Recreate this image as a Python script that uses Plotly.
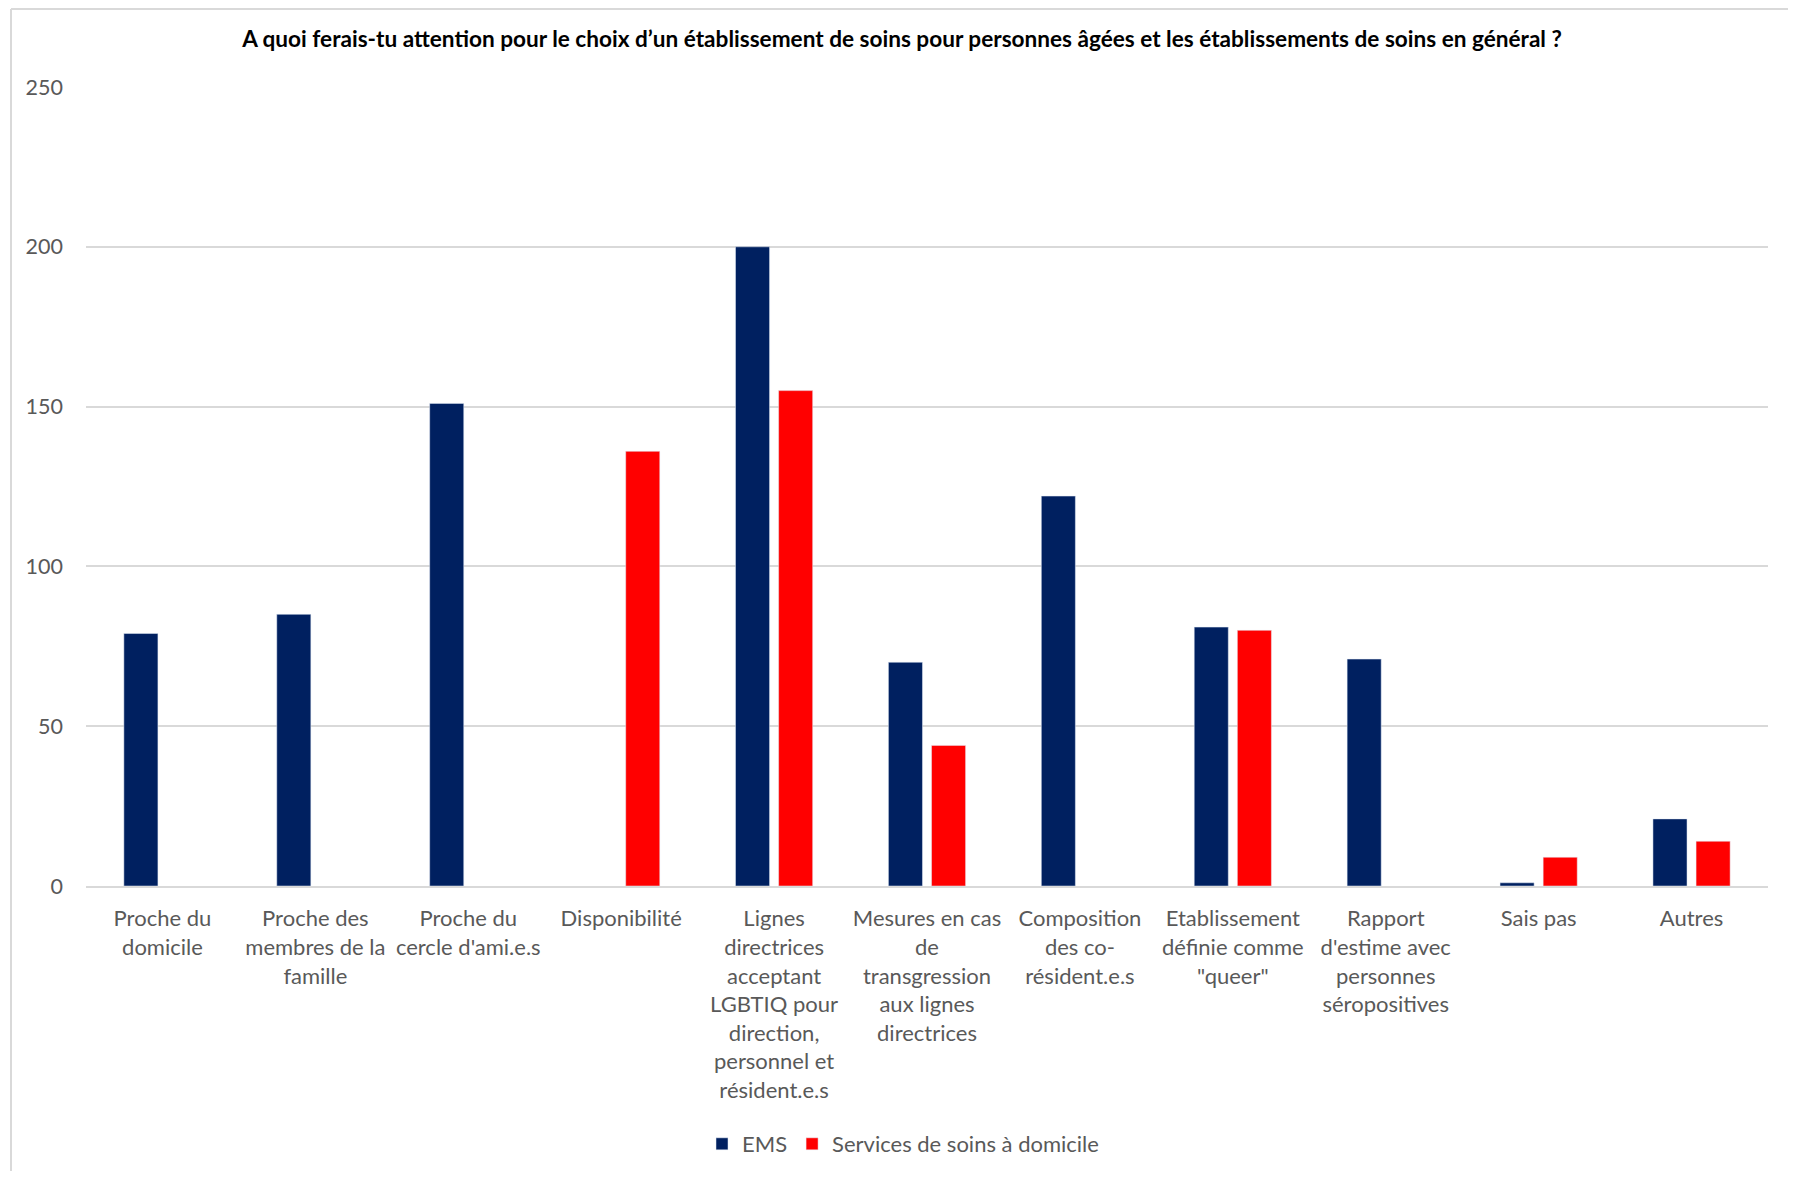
import plotly.graph_objects as go

categories = [
    "Proche du domicile",
    "Proche des membres de la famille",
    "Proche du cercle d'ami.e.s",
    "Disponibilité",
    "Lignes directrices acceptant LGBTIQ pour direction, personnel et résident.e.s",
    "Mesures en cas de transgression aux lignes directrices",
    "Composition des co-résident.e.s",
    "Etablissement définie comme \"queer\"",
    "Rapport d'estime avec personnes séropositives",
    "Sais pas",
    "Autres",
]
tick_labels = [
    "Proche du<br>domicile",
    "Proche des<br>membres de la<br>famille",
    "Proche du<br>cercle d'ami.e.s",
    "Disponibilité",
    "Lignes<br>directrices<br>acceptant<br>LGBTIQ pour<br>direction,<br>personnel et<br>résident.e.s",
    "Mesures en cas<br>de<br>transgression<br>aux lignes<br>directrices",
    "Composition<br>des co-<br>résident.e.s",
    "Etablissement<br>définie comme<br>\"queer\"",
    "Rapport<br>d'estime avec<br>personnes<br>séropositives",
    "Sais pas",
    "Autres",
]
ems = [79, 85, 151, None, 200, 70, 122, 81, 71, 1, 21]
soins_domicile = [None, None, None, 136, 155, 44, None, 80, None, 9, 14]
y_ticks = [0, 50, 100, 150, 200, 250]

title = ("A quoi ferais-tu attention pour le choix d’un établissement de soins pour "
         "personnes âgées et les établissements de soins en général ?")

FONT = "Lato"
GREY = "#595959"

W, H = 1780, 1163
L, R, T, B = 78, 20, 79, 285
PW = W - L - R
PH = H - T - B

fig = go.Figure()
fig.add_trace(go.Bar(x=categories, y=ems, name="EMS", marker_color="#002060"))
fig.add_trace(go.Bar(x=categories, y=soins_domicile, name="Services de soins à domicile",
                     marker_color="#FF0000"))

fig.update_layout(
    width=W, height=H,
    margin=dict(l=L, r=R, t=T, b=B, autoexpand=False),
    paper_bgcolor="white", plot_bgcolor="white",
    barmode="group", bargap=0.436, bargroupgap=0.21,
    title=dict(text="<b>" + title + "</b>", x=894 / W, xanchor="center",
               y=1 - 31 / H, yanchor="middle",
               font=dict(family=FONT, size=22.6, color="black")),
    font=dict(family=FONT, color=GREY),
    showlegend=True,
    legend=dict(orientation="h", xref="container", yref="container",
                x=895 / W, xanchor="center",
                y=1 - 1136 / H, yanchor="middle",
                font=dict(family=FONT, size=22, color=GREY),
                itemwidth=30, traceorder="normal"),
    xaxis=dict(tickvals=categories, ticktext=tick_labels, tickangle=0,
               tickfont=dict(family=FONT, size=22, color=GREY),
               showline=True, linecolor="#d9d9d9", linewidth=2,
               showgrid=False, ticks="", ticklabelstandoff=12, automargin=False),
    yaxis=dict(range=[0, 250], tickvals=y_ticks,
               tickfont=dict(family=FONT, size=21.5, color=GREY),
               showgrid=True, gridcolor="#d9d9d9", gridwidth=1.5,
               zeroline=False, showline=False, ticks="", ticklabelstandoff=22,
               automargin=False),
    shapes=[
        dict(type="line", xref="paper", yref="paper",
             x0=(3 - L) / PW, x1=(3 - L) / PW, y0=-0.5, y1=(T + PH - 1) / PH,
             line=dict(color="#d9d9d9", width=2)),
        dict(type="line", xref="paper", yref="paper",
             x0=(3 - L) / PW, x1=1.1, y0=(T + PH - 1) / PH, y1=(T + PH - 1) / PH,
             line=dict(color="#d9d9d9", width=2)),
    ],
)

fig.write_html("out.html")
